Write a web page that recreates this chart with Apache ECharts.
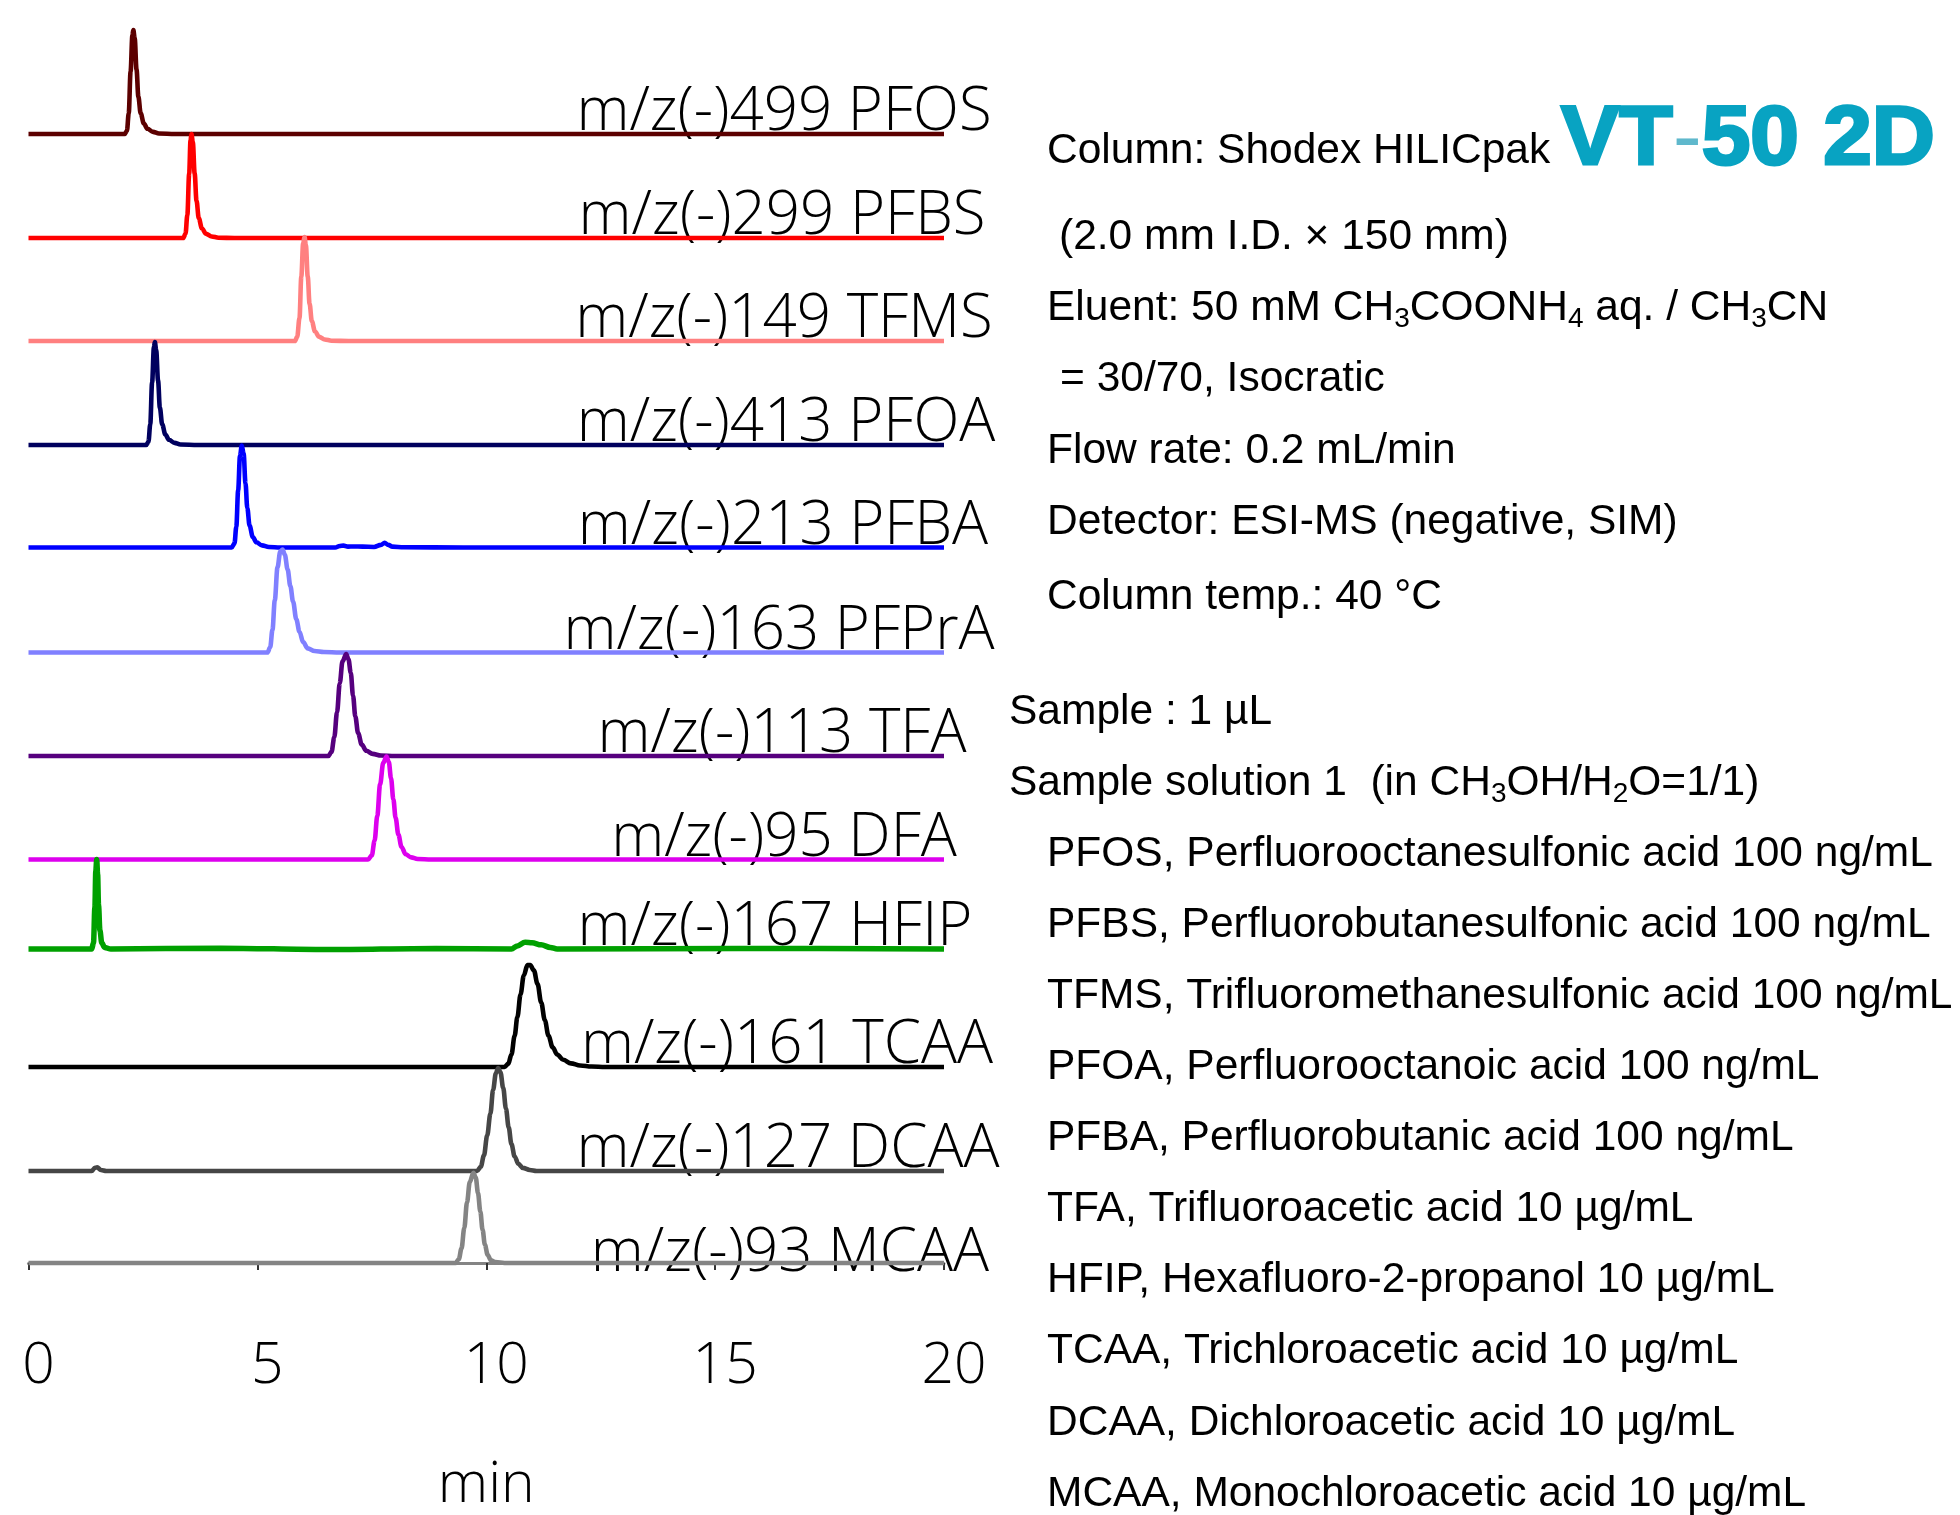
<!DOCTYPE html>
<html>
<head>
<meta charset="utf-8">
<script src="https://cdn.jsdelivr.net/npm/echarts@6/dist/echarts.min.js"></script>
<style>
html,body{margin:0;padding:0;background:#fff;}
#chart{width:1960px;height:1515px;}
</style>
</head>
<body>
<div id="chart"></div>
<script>
// ---------------- DATA ----------------
const timeTicks = [0, 5, 10, 15, 20];            // min
const xAxisName = 'min';

const traceNames  = ['PFOS','PFBS','TFMS','PFOA','PFBA','PFPrA','TFA','DFA','HFIP','TCAA','DCAA','MCAA'];
const traceLabels = ['m/z(-)499 PFOS','m/z(-)299 PFBS','m/z(-)149 TFMS','m/z(-)413 PFOA','m/z(-)213 PFBA',
                     'm/z(-)163 PFPrA','m/z(-)113 TFA','m/z(-)95 DFA','m/z(-)167 HFIP','m/z(-)161 TCAA',
                     'm/z(-)127 DCAA','m/z(-)93 MCAA'];

// [time (min), relative intensity (%)]
const pfos  = [[0,0],[2.10,0],[2.15,3],[2.19,20],[2.23,60],[2.27,95],[2.29,100],[2.32,92],[2.36,62],[2.40,36],[2.45,20],[2.52,10],[2.60,5],[2.72,2],[2.85,0.5],[3.2,0],[20,0]];
const pfbs  = [[0,0],[3.38,0],[3.43,4],[3.47,22],[3.51,62],[3.54,94],[3.56,100],[3.59,92],[3.63,62],[3.67,36],[3.72,19],[3.79,9],[3.88,4],[4.00,1.5],[4.15,0.3],[4.5,0],[20,0]];
const tfms  = [[0,0],[5.82,0],[5.87,4],[5.92,22],[5.96,62],[6.00,94],[6.03,100],[6.06,92],[6.10,62],[6.14,36],[6.19,19],[6.26,9],[6.35,4],[6.47,1.5],[6.62,0.3],[7.0,0],[20,0]];
const pfoa  = [[0,0],[2.57,0],[2.62,3],[2.66,20],[2.70,60],[2.74,94],[2.76,99],[2.79,91],[2.83,62],[2.87,36],[2.92,20],[2.99,10],[3.07,5],[3.19,2],[3.32,0.5],[3.7,0],[20,0]];
const pfba  = [[0,0],[4.44,0],[4.50,4],[4.54,20],[4.58,55],[4.62,88],[4.66,98],[4.70,90],[4.74,62],[4.78,38],[4.83,21],[4.90,10],[4.98,5],[5.10,2],[5.25,0.5],[5.5,0],[6.70,0],[6.80,1.5],[6.88,1.8],[6.98,0.8],[7.10,1],[7.30,0.8],[7.55,0.5],[7.70,2.5],[7.78,4.5],[7.86,2.5],[7.95,0.8],[8.2,0.3],[9.5,0],[20,0]];
const pfpra = [[0,0],[5.22,0],[5.28,5],[5.33,22],[5.38,50],[5.44,82],[5.50,97],[5.55,99],[5.60,94],[5.66,80],[5.72,64],[5.78,49],[5.85,32],[5.92,20],[6.00,10],[6.10,4],[6.25,1.5],[6.45,0.5],[6.8,0],[20,0]];
const tfa   = [[0,0],[6.55,0],[6.62,4],[6.68,18],[6.74,42],[6.80,70],[6.86,91],[6.94,98],[6.99,93],[7.04,80],[7.09,58],[7.14,38],[7.20,22],[7.28,11],[7.38,5],[7.52,2],[7.70,0.5],[8.0,0],[20,0]];
const dfa   = [[0,0],[7.42,0],[7.50,4],[7.56,18],[7.62,42],[7.68,72],[7.75,93],[7.82,99],[7.87,94],[7.92,78],[7.97,58],[8.02,40],[8.08,24],[8.15,12],[8.24,5],[8.36,2],[8.5,0.5],[8.8,0],[20,0]];
const hfip  = [[0,0],[1.38,0],[1.42,6],[1.45,40],[1.47,75],[1.49,86],[1.51,72],[1.53,42],[1.56,18],[1.60,6],[1.66,1.5],[1.8,0],[4.2,0.8],[6.5,-0.5],[8.9,0.6],[10.55,0],[10.68,3],[10.85,6.5],[11.0,6],[11.2,4],[11.4,1.5],[11.55,0],[15.5,0.5],[20,0]];
const tcaa  = [[0,0],[10.40,0],[10.48,3],[10.55,12],[10.62,30],[10.68,48],[10.75,70],[10.82,88],[10.90,98],[10.96,98],[11.04,93],[11.12,80],[11.20,62],[11.28,45],[11.36,30],[11.45,19],[11.55,12],[11.68,7],[11.85,3.5],[12.05,1.5],[12.3,0.5],[12.6,0],[20,0]];
const dcaa  = [[0,0],[1.38,0],[1.45,3],[1.50,3.5],[1.58,1],[1.7,0],[9.80,0],[9.88,4],[9.95,15],[10.02,34],[10.09,55],[10.15,78],[10.21,94],[10.26,99],[10.31,95],[10.37,80],[10.43,60],[10.49,42],[10.55,26],[10.62,14],[10.70,7],[10.80,3],[10.95,1],[11.1,0],[20,0]];
const mcaa  = [[0,0],[9.33,0],[9.40,4],[9.46,16],[9.52,38],[9.58,66],[9.64,88],[9.72,98],[9.77,93],[9.82,76],[9.87,56],[9.92,36],[9.97,20],[10.03,9],[10.10,3],[10.2,1],[10.4,0],[20,0]];

const traceData = [pfos, pfbs, tfms, pfoa, pfba, pfpra, tfa, dfa, hfip, tcaa, dcaa, mcaa];

// Conditions text
const conditionLines = [
  'Column: Shodex HILICpak',
  '(2.0 mm I.D. × 150 mm)',
  'Eluent: 50 mM CH{s|3}COONH{s|4} aq. / CH{s|3}CN',
  '= 30/70, Isocratic',
  'Flow rate: 0.2 mL/min',
  'Detector: ESI-MS (negative, SIM)',
  'Column temp.: 40 °C'
];
const columnName = ['VT', '-', '50 2D'];
const sampleLines = [
  'Sample : 1 µL',
  'Sample solution 1  (in CH{s|3}OH/H{s|2}O=1/1)'
];
const analyteLines = [
  'PFOS, Perfluorooctanesulfonic acid 100 ng/mL',
  'PFBS, Perfluorobutanesulfonic acid 100 ng/mL',
  'TFMS, Trifluoromethanesulfonic acid 100 ng/mL',
  'PFOA, Perfluorooctanoic acid 100 ng/mL',
  'PFBA, Perfluorobutanic acid 100 ng/mL',
  'TFA, Trifluoroacetic acid 10 µg/mL',
  'HFIP, Hexafluoro-2-propanol 10 µg/mL',
  'TCAA, Trichloroacetic acid 10 µg/mL',
  'DCAA, Dichloroacetic acid 10 µg/mL',
  'MCAA, Monochloroacetic acid 10 µg/mL'
];

// ---------------- LAYOUT / STYLE ----------------
const colors = ['#5c0000','#ff0000','#ff8080','#00005e','#0000ff','#8080ff','#56007e','#dd00ee','#00a000','#000000','#464646','#848484'];
const baselines = [134, 238, 341, 445, 547.5, 652.5, 756, 859.5, 949, 1067, 1171, 1275];
const labelCenters = [784, 782, 784, 786, 783, 779, 782, 784, 775, 787, 788, 790];
const lineWidths = [4.6,4.6,4.6,4.6,4.6,4.6,4.6,4.6,5.5,4.6,4.6,4.6];
const GRID_LEFT = 28.5, GRID_W = 915.5, PEAK_H = 104;
const traceFont = '"Open Sans", Roboto, sans-serif';
const infoFont = '"Liberation Sans", Arial, sans-serif';

// ---------------- BUILD ----------------
const n = traceData.length;
const grids = [], xAxes = [], yAxes = [], series = [], graphics = [];
for (let i = 0; i < n; i++) {
  grids.push({left: GRID_LEFT, width: GRID_W, top: baselines[i] - PEAK_H, height: PEAK_H});
  const last = (i === n - 1);
  xAxes.push({
    type: 'value', gridIndex: i, min: timeTicks[0], max: timeTicks[timeTicks.length - 1], interval: 5,
    show: last,
    splitLine: {show: false},
    axisLine: {show: last, lineStyle: {color: '#848484', width: 3}},
    axisTick: {show: last, length: 7, lineStyle: {color: '#333', width: 2}},
    axisLabel: {show: last, margin: 75, fontSize: 57, fontFamily: traceFont, fontWeight: 300, color: '#000',
                padding: [0, 0, 0, 20]},
    name: last ? xAxisName : '',
    nameLocation: 'middle', nameGap: 194,
    nameTextStyle: {fontSize: 57, fontFamily: traceFont, fontWeight: 300, color: '#000'}
  });
  yAxes.push({type: 'value', gridIndex: i, min: 0, max: 100, show: false, splitLine: {show: false}});
  series.push({
    name: traceNames[i], type: 'line', xAxisIndex: i, yAxisIndex: i,
    data: traceData[i], showSymbol: false, symbol: 'none', clip: false,
    smooth: 0.35, smoothMonotone: 'x',
    lineStyle: {color: colors[i], width: lineWidths[i]},
    z: 2 + i
  });
  graphics.push({
    type: 'text', x: labelCenters[i], y: baselines[i] - 21, z: 0,
    style: {text: traceLabels[i], fill: '#000', font: '300 60px ' + traceFont,
            textAlign: 'center', textVerticalAlign: 'middle'}
  });
}

const subRich = {s: {fontSize: 28, lineHeight: 28, verticalAlign: 'bottom', fontFamily: infoFont, fill: '#000'}};
function infoText(str, x, y) {
  return {
    type: 'text', x: x, y: y, z: 0,
    style: {text: str, fill: '#000', font: '42.5px ' + infoFont, lineHeight: 50,
            textAlign: 'left', textVerticalAlign: 'middle', rich: subRich}
  };
}
const condX = [1047, 1059, 1047, 1060, 1047, 1047, 1047];
const condY = [151, 237, 308, 379, 451, 522, 597];
conditionLines.forEach((s, k) => graphics.push(infoText(s, condX[k], condY[k])));
const sampleY = [712, 783];
sampleLines.forEach((s, k) => graphics.push(infoText(s, 1009, sampleY[k])));
analyteLines.forEach((s, k) => graphics.push(infoText(s, 1047, 854 + k * 71.1)));

graphics.push({
  type: 'text', x: 1561, y: 141, z: 0, scaleX: 1.04,
  style: {
    text: '{a|' + columnName[0] + '}{b|' + columnName[1] + '}{a|' + columnName[2] + '}',
    textAlign: 'left', textVerticalAlign: 'middle',
    rich: {
      a: {fontSize: 84, fontWeight: 'bold', fontFamily: infoFont, fill: '#08a3c2', stroke: '#08a3c2', lineWidth: 3},
      b: {fontSize: 84, fontWeight: 'normal', fontFamily: infoFont, fill: '#5fb8cc'}
    }
  }
});

const chart = echarts.init(document.getElementById('chart'), null, {renderer: 'canvas'});
chart.setOption({
  animation: false,
  backgroundColor: '#fff',
  grid: grids, xAxis: xAxes, yAxis: yAxes, series: series,
  graphic: graphics
});
</script>
</body>
</html>
